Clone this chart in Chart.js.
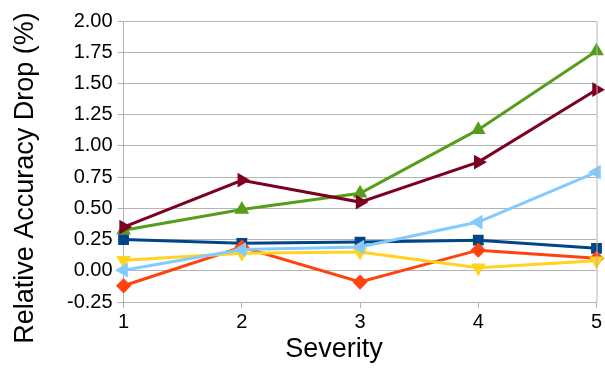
<!DOCTYPE html>
<html>
<head>
<meta charset="utf-8">
<script src="https://cdn.jsdelivr.net/npm/chart.js@4/dist/chart.umd.min.js"></script>
<style>
  body { margin: 0; background: #fff; }
  #wrap { width: 605px; height: 371px; }
</style>
</head>
<body>
<div id="wrap"><canvas id="chartCanvas"></canvas></div>
<script>
const severities = ['1', '2', '3', '4', '5'];

// six series, values
const seriesBlue = [0.25, 0.22, 0.23, 0.245, 0.18];
const seriesOrange = [-0.12, 0.19, -0.09, 0.165, 0.10];
const seriesYellow = [0.085, 0.14, 0.15, 0.025, 0.08];
const seriesGreen = [0.325, 0.49, 0.62, 1.13, 1.76];
const seriesMaroon = [0.35, 0.725, 0.55, 0.87, 1.45];
const seriesLightBlue = [0.005, 0.17, 0.19, 0.39, 0.79];

const yTicks = [-0.25, 0, 0.25, 0.5, 0.75, 1, 1.25, 1.5, 1.75, 2];
const yTitle = 'Relative Accuracy Drop (%)';
const xTitle = 'Severity';

function makeSet(data, color, pointStyle, rotation) {
    return {
        data: data,
        borderColor: color,
        backgroundColor: color,
        borderWidth: 3,
        pointStyle: pointStyle,
        rotation: rotation,
        pointRadius: 5.5,
        pointHoverRadius: 5.5,
        tension: 0
    };
}

// right frame line of the plot area + axis titles placed like the original
const extras = {
    id: 'extras',
    afterDraw(chart) {
        const ctx = chart.ctx;
        const a = chart.chartArea;
        ctx.save();
        ctx.strokeStyle = '#b3b3b3';
        ctx.lineWidth = 1;
        ctx.beginPath();
        ctx.moveTo(a.right + 0.5, a.top);
        ctx.lineTo(a.right + 0.5, a.bottom);
        ctx.stroke();

        ctx.fillStyle = '#000';
        ctx.font = '27px "Liberation Sans"';
        ctx.textAlign = 'center';
        ctx.textBaseline = 'alphabetic';
        ctx.fillText(xTitle, 334, 357);

        ctx.translate(26, 178);
        ctx.rotate(-Math.PI / 2);
        ctx.textBaseline = 'middle';
        ctx.fillText(yTitle, 0, 0);
        ctx.restore();
    }
};

const chart = new Chart(document.getElementById('chartCanvas'), {
    type: 'line',
    data: {
        labels: severities,
        datasets: [
            makeSet(seriesLightBlue, '#83caff', 'triangle', -90),
            makeSet(seriesMaroon, '#7e0021', 'triangle', 90),
            makeSet(seriesGreen, '#579d1c', 'triangle', 0),
            makeSet(seriesYellow, '#ffd320', 'triangle', 180),
            makeSet(seriesOrange, '#ff420e', 'rectRot', 0),
            makeSet(seriesBlue, '#004586', 'rect', 0)
        ]
    },
    plugins: [extras],
    options: {
        responsive: true,
        maintainAspectRatio: false,
        animation: false,
        layout: { padding: { top: 21, right: 0, left: 62, bottom: 35 } },
        plugins: {
            legend: { display: false },
            tooltip: { enabled: false }
        },
        scales: {
            x: {
                offset: false,
                grid: { drawOnChartArea: false, color: '#b3b3b3', tickLength: 6 },
                border: { color: '#b3b3b3' },
                ticks: { color: '#000', font: { family: 'Liberation Sans', size: 20 }, padding: 2 }
            },
            y: {
                min: -0.25,
                max: 2,
                afterBuildTicks(scale) {
                    scale.ticks = yTicks.map(v => ({ value: v }));
                },
                grid: { color: '#b3b3b3', tickLength: 6 },
                border: { color: '#b3b3b3' },
                ticks: {
                    color: '#000',
                    font: { family: 'Liberation Sans', size: 20 },
                    padding: 5,
                    callback: v => Number(v).toFixed(2)
                }
            }
        }
    }
});
</script>
</body>
</html>
